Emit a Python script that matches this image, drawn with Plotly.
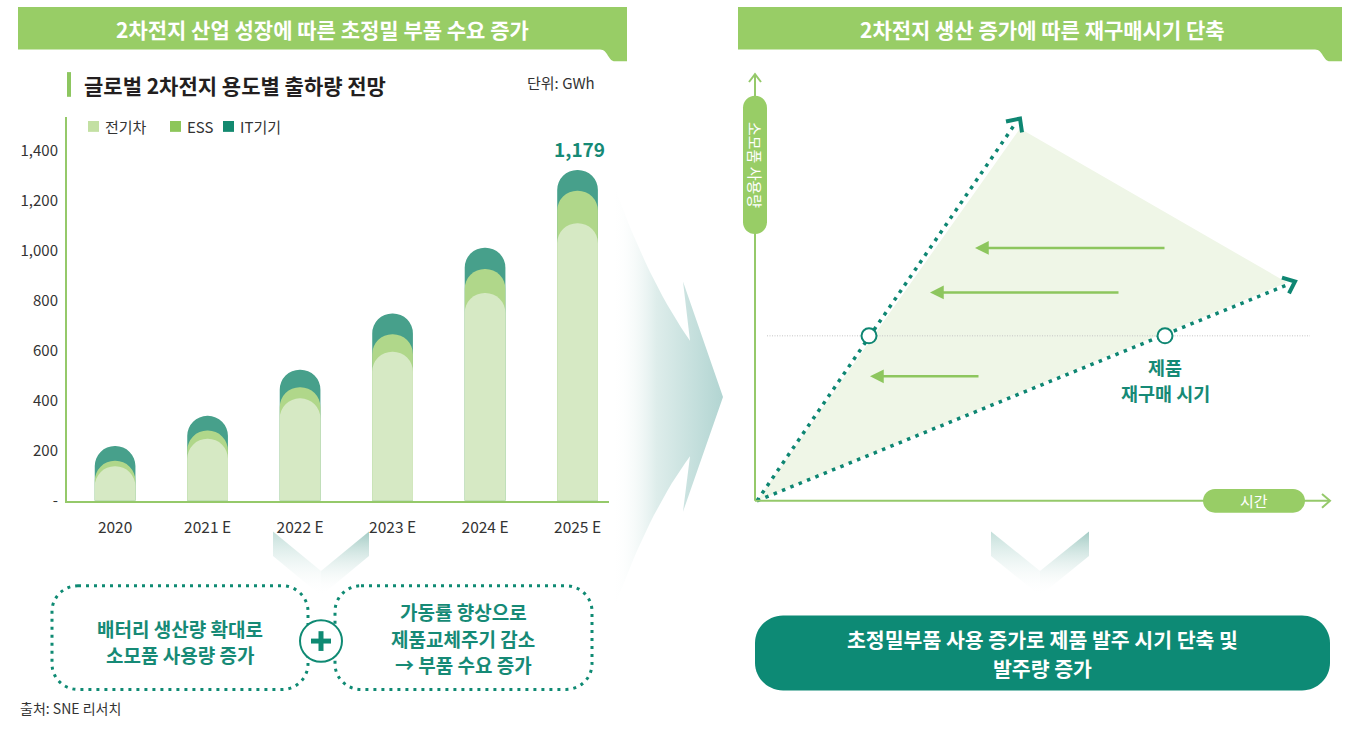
import plotly.graph_objects as go

# 글로벌 2차전지 용도별 출하량 (GWh, 그림에서 읽은 값)
years = ["2020", "2021 E", "2022 E", "2023 E", "2024 E", "2025 E"]
ev = [138, 248, 410, 597, 832, 1111]
ess = [22, 33, 45, 70, 96, 130]
it = [59, 59, 70, 83, 85, 83]
total_label = "1,179"
y_ticks = [0, 200, 400, 600, 800, 1000, 1200, 1400]
y_ticktext = ["-", "200", "400", "600", "800", "1,000", "1,200", "1,400"]

FONT = "Noto Sans CJK KR"
GREEN = "#98cd66"
AXIS_GREEN = "#95c96a"
TEAL = "#0f8a73"
TEAL_TXT = "#168a76"
W, H = 1365, 736

# 겹쳐 보이는 캡슐형 막대: 누적값으로 뒤에서부터 그림 (각자 겹친 x축에 올려 모두 둥글게)
ess_top = [a + b for a, b in zip(ev, ess)]
it_top = [a + b for a, b in zip(ess_top, it)]

fig = go.Figure()
for name, vals, color, xa in [("IT기기", it_top, "#47a08b", "x"),
                              ("ESS", ess_top, "#b0d78a", "x3"),
                              ("전기차", ev, "#d6e9c4", "x4")]:
    fig.add_trace(go.Bar(
        name=name, x=years, y=vals, width=0.44, xaxis=xa, yaxis="y",
        marker=dict(color=color, cornerradius="50%", line=dict(width=0)),
        hoverinfo="skip",
    ))


# ---- 캔버스(픽셀 좌표) 도우미 ----
def canvas(**kw):
    kw.setdefault("hoverinfo", "skip")
    fig.add_trace(go.Scatter(xaxis="x2", yaxis="y2", showlegend=False, **kw))


def rrect(x0, y0, x1, y1, r):
    k = 0.5523 * r
    return (f"M{x0+r},{y0} H{x1-r} C{x1-r+k},{y0} {x1},{y0+r-k} {x1},{y0+r} "
            f"V{y1-r} C{x1},{y1-r+k} {x1-r+k},{y1} {x1-r},{y1} "
            f"H{x0+r} C{x0+r-k},{y1} {x0},{y1-r+k} {x0},{y1-r} "
            f"V{y0+r} C{x0},{y0+r-k} {x0+r-k},{y0} {x0+r},{y0} Z")


def quad(p0, c, p1, n=18):
    pts = []
    for i in range(n + 1):
        t = i / n
        x = (1 - t) ** 2 * p0[0] + 2 * (1 - t) * t * c[0] + t ** 2 * p1[0]
        y = (1 - t) ** 2 * p0[1] + 2 * (1 - t) * t * c[1] + t ** 2 * p1[1]
        pts.append((x, y))
    return pts


shapes = []
annos = []


def shp(path, fill="rgba(0,0,0,0)", line=None):
    shapes.append(dict(type="path", path=path, xref="x2", yref="y2",
                       fillcolor=fill, line=line or dict(width=0)))


def txt(x, y, s, size, color, bold=False, xanchor="center", angle=0):
    annos.append(dict(x=x, y=y, xref="x2", yref="y2", text=s, showarrow=False,
                      xanchor=xanchor, yanchor="middle", textangle=angle,
                      font=dict(family=FONT, size=size, color=color,
                                weight="bold" if bold else "normal")))


def lines(x, ys, texts, size, color):
    for yy, s in zip(ys, texts):
        txt(x, yy, s, size, color, True)


# 헤더
shp("M18,7 H627 V62 H615 C608,62 608,50 600,50 H18 Z", GREEN)
shp("M738,7 H1342 V62 H1330 C1323,62 1323,50 1315,50 H738 Z", GREEN)
txt(322, 29, "2차전지 산업 성장에 따른 초정밀 부품 수요 증가", 21, "white", True)
txt(1042, 29, "2차전지 생산 증가에 따른 재구매시기 단축", 21, "white", True)

# 차트 제목 / 단위 / 범례
shapes.append(dict(type="rect", x0=67, x1=71, y0=73, y1=98, xref="x2", yref="y2",
                   fillcolor="#8dc660", line=dict(width=0)))
txt(82, 86, "글로벌 2차전지 용도별 출하량 전망", 21, "#231f20", True, "left")
txt(597, 84, "단위: GWh", 15, "#333333", False, "right")
for x0, label, color in [(88, "전기차", "#c3e0a3"), (170, "ESS", "#8dc65a"),
                         (223, "IT기기", "#13896f")]:
    shapes.append(dict(type="rect", x0=x0, x1=x0 + 11, y0=122.5, y1=133.5,
                       xref="x2", yref="y2", fillcolor=color, line=dict(width=0)))
    txt(x0 + 15, 128, label, 15, "#333333", False, "left")
txt(579, 150, total_label, 19, TEAL_TXT, True)

# 쉐브론
for pts, col in [([(273, 538), (273, 563), (321, 603), (321, 578)], "#c3dfda"),
                 ([(321, 578), (321, 603), (369, 563), (369, 538)], "#a2cbc4"),
                 ([(991, 538), (991, 563), (1040, 603), (1040, 578)], "#c3dfda"),
                 ([(1040, 578), (1040, 603), (1089, 563), (1089, 538)], "#a2cbc4")]:
    xs = [p[0] for p in pts] + [pts[0][0]]
    ys = [p[1] for p in pts] + [pts[0][1]]
    canvas(x=xs, y=ys, mode="lines", fill="toself", line=dict(width=0),
           fillgradient=dict(type="vertical",
                             colorscale=[[0, "rgba(255,255,255,0)"], [1, col]]))

# 가운데 큰 화살표 (그라데이션)
arrow_pts = (quad((612, 182), (648, 285), (690, 345))
             + [(683, 285), (723, 402), (683, 518)]
             + quad((690, 462), (648, 519), (612, 622)))
canvas(x=[p[0] for p in arrow_pts] + [arrow_pts[0][0]],
       y=[p[1] for p in arrow_pts] + [arrow_pts[0][1]],
       mode="lines", fill="toself", line=dict(width=0),
       fillgradient=dict(type="horizontal",
                         colorscale=[[0, "rgba(255,255,255,0)"],
                                     [0.4, "rgba(222,237,235,1)"],
                                     [1, "#b2d5d2"]]))

# 점선 박스 + 플러스
dot_line = dict(color=TEAL, width=3, dash="3px,5px")
shp(rrect(52, 593, 308, 698, 26), line=dot_line)
shp(rrect(335, 593, 592, 698, 26), line=dot_line)
shapes.append(dict(type="circle", x0=300, x1=342, y0=628, y1=670, xref="x2", yref="y2",
                   fillcolor="white", line=dict(color=TEAL, width=2)))
shapes.append(dict(type="rect", x0=311, x1=331, y0=646.5, y1=651.5, xref="x2", yref="y2",
                   fillcolor=TEAL, line=dict(width=0)))
shapes.append(dict(type="rect", x0=318.5, x1=323.5, y0=639, y1=659, xref="x2", yref="y2",
                   fillcolor=TEAL, line=dict(width=0)))
lines(180, [636, 662.5], ["배터리 생산량 확대로", "소모품 사용량 증가"], 19, TEAL_TXT)
lines(463, [619.5, 646, 672.5], ["가동률 향상으로", "제품교체주기 감소", "→ 부품 수요 증가"], 19, TEAL_TXT)
txt(18, 717, "출처: SNE 리서치", 14, "#333333", False, "left")

# ---- 오른쪽 개념도 ----
canvas(x=[757, 1020, 1287, 757], y=[507, 130, 286, 507], mode="lines",
       fill="toself", fillcolor="#eff6e7", line=dict(width=0))
canvas(x=[767, 1310], y=[340, 340], mode="lines",
       line=dict(color="#c4c4c4", width=1, dash="1px,1.5px"))
teal_dots = dict(color="#0e8672", width=3.5, dash="3.5px,5.5px")
canvas(x=[757, 1014], y=[507, 127], mode="lines", line=teal_dots)
canvas(x=[757, 1288], y=[507, 288], mode="lines", line=teal_dots)
canvas(x=[1006, 1020, 1022], y=[123, 120, 134], mode="lines",
       line=dict(color="#0e8672", width=4))
canvas(x=[1282, 1295, 1289], y=[281, 285, 297], mode="lines",
       line=dict(color="#0e8672", width=4))
canvas(x=[869, 1165], y=[340, 340], mode="markers",
       marker=dict(symbol="circle", size=15, color="white",
                   line=dict(color="#0e8672", width=2)))

# 축
canvas(x=[755, 755], y=[507, 75], mode="lines", line=dict(color=AXIS_GREEN, width=2))
canvas(x=[749, 755, 761], y=[83, 75, 83], mode="lines", line=dict(color=AXIS_GREEN, width=2))
canvas(x=[755, 1330], y=[507, 507], mode="lines", line=dict(color=AXIS_GREEN, width=2))
canvas(x=[1322, 1330, 1322], y=[500, 507, 514], mode="lines", line=dict(color=AXIS_GREEN, width=2))
shp(rrect(743, 97, 767, 237, 12), GREEN)
shp(rrect(1203, 495, 1305, 519, 12), GREEN)
txt(755, 167, "소모품 사용량", 15, "white", False, "center", 90)
txt(1254, 507, "시간", 15, "white")

# 왼쪽으로 향하는 초록 화살표
for head, tail, yy in [(975, 1166, 251), (930, 1120, 296), (870, 980, 381)]:
    annos.append(dict(x=head, y=yy, ax=tail, ay=yy, xref="x2", yref="y2",
                      axref="x2", ayref="y2", text="", showarrow=True,
                      arrowhead=2, arrowsize=1.1, arrowwidth=2.5,
                      arrowcolor="#8dc65e"))
lines(1165, [372, 398], ["제품", "재구매 시기"], 18.5, TEAL_TXT)

# 결론 박스
shp(rrect(755, 623, 1330, 699, 28), "#0d8a75")
lines(1042, [647, 676], ["초정밀부품 사용 증가로 제품 발주 시기 단축 및", "발주량 증가"], 20.5, "white")

tickfont = dict(family=FONT, size=15, color="#333333")
fig.update_layout(
    width=W, height=H,
    margin=dict(l=0, r=0, t=0, b=0),
    paper_bgcolor="white", plot_bgcolor="rgba(0,0,0,0)",
    barmode="overlay", showlegend=False,
    font=dict(family=FONT, color="#333333"),
    xaxis=dict(domain=[67 / W, 609 / W], type="category", range=[-0.52, 5.34],
               showline=True, linecolor=AXIS_GREEN, linewidth=2, ticks="",
               showgrid=False, ticklabelstandoff=12, anchor="y",
               tickfont=dict(family=FONT, size=15.5, color="#333333")),
    xaxis3=dict(type="category", range=[-0.52, 5.34], overlaying="x", matches="x",
                visible=False, anchor="y"),
    xaxis4=dict(type="category", range=[-0.52, 5.34], overlaying="x", matches="x",
                visible=False, anchor="y"),
    yaxis=dict(domain=[1 - 507 / H, 1 - 118 / H], range=[0, 1538],
               tickvals=y_ticks, ticktext=y_ticktext,
               showline=True, linecolor=AXIS_GREEN, linewidth=2, ticks="",
               showgrid=False, zeroline=False, ticklabelstandoff=4,
               tickfont=tickfont),
    xaxis2=dict(domain=[0, 1], range=[0, W], visible=False, anchor="y2", fixedrange=True),
    yaxis2=dict(domain=[0, 1], range=[H, 0], visible=False, anchor="x2", fixedrange=True),
    shapes=shapes, annotations=annos,
)

fig.write_html("out.html", config={"displayModeBar": False},
               post_script="document.body.style.margin='0';")
